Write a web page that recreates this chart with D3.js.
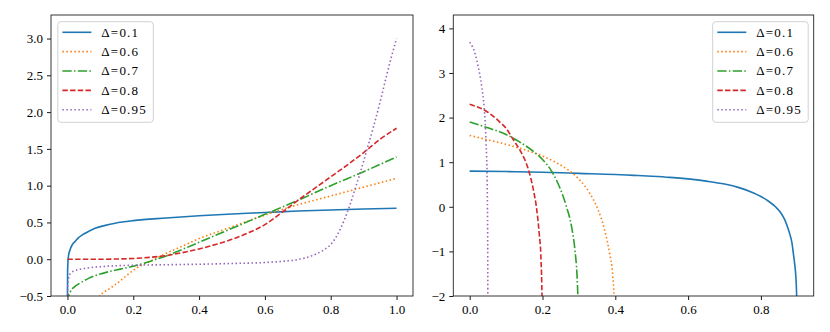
<!DOCTYPE html>
<html><head><meta charset="utf-8">
<script src="https://cdn.jsdelivr.net/npm/d3@7"></script>
<style>body{margin:0;background:#fff}svg{display:block}text{font-family:"Liberation Serif",serif;fill:#000}</style>
</head><body><svg id="c" width="830" height="332"></svg>
<script>
// ---- data ----
const labels = ["Δ=0.1", "Δ=0.6", "Δ=0.7", "Δ=0.8", "Δ=0.95"];

const left_d01 = [[0,-0.7],[0.0003,-0.25],[0.001,-0.08],[0.003,0.04],[0.008,0.13],[0.015,0.2],[0.023,0.24],[0.033,0.29],[0.045,0.33],[0.065,0.38],[0.084,0.42],[0.115,0.46],[0.145,0.49],[0.2,0.525],[0.3,0.56],[0.4,0.59],[0.5,0.615],[0.6,0.635],[0.7,0.655],[0.8,0.67],[0.9,0.682],[1.0,0.693]];
const left_d06 = [[0.09,-0.56],[0.1,-0.49],[0.125,-0.41],[0.15,-0.33],[0.175,-0.24],[0.2,-0.15],[0.25,-0.03],[0.3,0.08],[0.35,0.18],[0.4,0.28],[0.5,0.44],[0.6,0.6],[0.7,0.74],[0.8,0.86],[0.9,0.98],[1.0,1.1]];
const left_d07 = [[0.001,-0.6],[0.003,-0.51],[0.008,-0.45],[0.023,-0.37],[0.04,-0.32],[0.064,-0.26],[0.1,-0.2],[0.125,-0.17],[0.16,-0.135],[0.2,-0.095],[0.25,-0.03],[0.3,0.045],[0.35,0.135],[0.4,0.23],[0.5,0.42],[0.6,0.61],[0.7,0.8],[0.8,1.0],[0.9,1.19],[1.0,1.39]];
const left_d08 = [[0,0],[0.1,0.0],[0.15,0.003],[0.2,0.01],[0.25,0.025],[0.3,0.05],[0.35,0.09],[0.4,0.14],[0.45,0.2],[0.5,0.27],[0.55,0.36],[0.6,0.47],[0.65,0.63],[0.7,0.8],[0.75,0.96],[0.8,1.12],[0.85,1.28],[0.9,1.45],[0.95,1.63],[1.0,1.78]];
const left_d095 = [[0,-0.7],[0.001,-0.36],[0.003,-0.28],[0.008,-0.2],[0.023,-0.155],[0.06,-0.12],[0.12,-0.095],[0.2,-0.082],[0.3,-0.075],[0.4,-0.068],[0.5,-0.058],[0.6,-0.045],[0.65,-0.03],[0.7,-0.005],[0.72,0.015],[0.75,0.06],[0.78,0.13],[0.8,0.2],[0.82,0.33],[0.84,0.52],[0.86,0.76],[0.875,0.97],[0.89,1.18],[0.91,1.49],[0.93,1.8],[0.95,2.14],[0.97,2.5],[0.985,2.76],[1.0,3.0]];

const right_d01 = [[0,0.8],[0.1,0.79],[0.2,0.775],[0.3,0.75],[0.4,0.725],[0.45,0.705],[0.5,0.685],[0.55,0.66],[0.6,0.625],[0.65,0.575],[0.7,0.51],[0.74,0.43],[0.78,0.31],[0.8,0.23],[0.82,0.13],[0.84,0.0],[0.855,-0.14],[0.866,-0.3],[0.875,-0.5],[0.88,-0.63],[0.885,-0.8],[0.889,-1.04],[0.893,-1.3],[0.896,-1.57],[0.8982,-2.0],[0.8995,-2.6]];
const right_d06 = [[0,1.6],[0.05,1.5],[0.1,1.4],[0.15,1.28],[0.2,1.14],[0.24,0.98],[0.27,0.83],[0.3,0.62],[0.33,0.3],[0.352,-0.05],[0.37,-0.5],[0.384,-1.03],[0.393,-1.55],[0.3964,-2.0],[0.3995,-3.0]];
const right_d07 = [[0,1.9],[0.05,1.77],[0.1,1.62],[0.14,1.44],[0.175,1.24],[0.2,1.06],[0.225,0.8],[0.248,0.42],[0.266,0.0],[0.28,-0.45],[0.289,-0.96],[0.295,-1.56],[0.2972,-2.0],[0.2995,-2.6]];
const right_d08 = [[0,2.3],[0.05,2.12],[0.08,1.92],[0.1,1.76],[0.12,1.5],[0.14,1.24],[0.16,0.87],[0.175,0.38],[0.184,-0.05],[0.191,-0.6],[0.196,-1.19],[0.1987,-2.0],[0.1998,-2.6]];
const right_d095 = [[0,3.69],[0.015,3.43],[0.024,3.12],[0.033,2.7],[0.04,2.2],[0.045,1.45],[0.048,0.55],[0.0495,-0.85],[0.0499,-2.4]];

const leftXTicks = [0, 0.2, 0.4, 0.6, 0.8, 1.0];
const leftYTicks = [-0.5, 0, 0.5, 1.0, 1.5, 2.0, 2.5, 3.0];
const rightXTicks = [0, 0.2, 0.4, 0.6, 0.8];
const rightYTicks = [-2, -1, 0, 1, 2, 3, 4];

// ---- styles ----
const colors = ["#1f77b4", "#ff7f0e", "#2ca02c", "#d62728", "#9467bd"];
const dashes = [null, "1.5,2.5", "9.3,2.3,1.5,2.3", "5.4,2.3", "1.5,2.5"];

const svg = d3.select("#c");

function panel(id, series, xDom, yDom, box, xTicks, yTicks, xFmt, yFmt, legendX) {
  const x = d3.scaleLinear().domain(xDom).range([box.l, box.r]);
  const y = d3.scaleLinear().domain(yDom).range([box.b, box.t]);
  const g = svg.append("g");
  g.append("clipPath").attr("id", id).append("rect")
    .attr("x", box.l).attr("y", box.t).attr("width", box.r - box.l).attr("height", box.b - box.t);
  const line = d3.line().x(d => x(d[0])).y(d => y(d[1])).curve(d3.curveMonotoneX);
  const lg = g.append("g").attr("clip-path", `url(#${id})`);
  series.forEach((s, i) => {
    lg.append("path").attr("d", line(s)).attr("fill", "none")
      .attr("stroke", colors[i]).attr("stroke-width", 1.6)
      .attr("stroke-dasharray", dashes[i]);
  });
  // axes
  const ax = g.append("g").attr("transform", `translate(0,${box.b})`)
    .call(d3.axisBottom(x).tickValues(xTicks).tickFormat(xFmt).tickSizeInner(4).tickSizeOuter(0).tickPadding(3));
  const ay = g.append("g").attr("transform", `translate(${box.l},0)`)
    .call(d3.axisLeft(y).tickValues(yTicks).tickFormat(yFmt).tickSizeInner(4).tickSizeOuter(0).tickPadding(4));
  [ax, ay].forEach(a => {
    a.select(".domain").remove();
    a.selectAll(".tick line").attr("stroke", "#000").attr("stroke-width", 0.9);
    a.selectAll(".tick text").attr("font-family", "Liberation Serif").attr("font-size", 13).attr("fill", "#000");
  });
  ax.selectAll(".tick text").attr("dy", null).attr("y", 18);
  ay.selectAll(".tick text").attr("dy", "0.33em");
  g.append("rect").attr("x", box.l).attr("y", box.t).attr("width", box.r - box.l).attr("height", box.b - box.t)
    .attr("fill", "none").attr("stroke", "#222").attr("stroke-width", 0.9);
  // legend
  const L = g.append("g");
  L.append("rect").attr("x", legendX).attr("y", 21.7).attr("width", 95.5).attr("height", 100.6)
    .attr("rx", 3).attr("fill", "#fff").attr("fill-opacity", 0.8).attr("stroke", "#cccccc").attr("stroke-width", 0.9);
  labels.forEach((lab, i) => {
    const cy = 32.3 + i * 19.35;
    L.append("line").attr("x1", legendX + 4.6).attr("x2", legendX + 33.6).attr("y1", cy).attr("y2", cy)
      .attr("stroke", colors[i]).attr("stroke-width", 1.6).attr("stroke-dasharray", dashes[i]);
    L.append("text").attr("x", legendX + 43.5).attr("y", cy + 4.4).attr("font-size", 13)
      .attr("letter-spacing", "1.2px").text(lab);
  });
}

const fmt1 = d3.format(".1f");
const fmt0 = d3.format("d");

panel("clipL", [left_d01, left_d06, left_d07, left_d08, left_d095],
  [-0.05, 1.05], [-0.5, 3.32], {l: 51, r: 413, t: 15, b: 296},
  leftXTicks, leftYTicks, fmt1, fmt1, 57.8);

panel("clipR", [right_d01, right_d06, right_d07, right_d08, right_d095],
  [-0.045, 0.945], [-2, 4.3], {l: 453.3, r: 813.7, t: 15, b: 296},
  rightXTicks, rightYTicks, fmt1, fmt0, 712.7);
</script></body></html>
